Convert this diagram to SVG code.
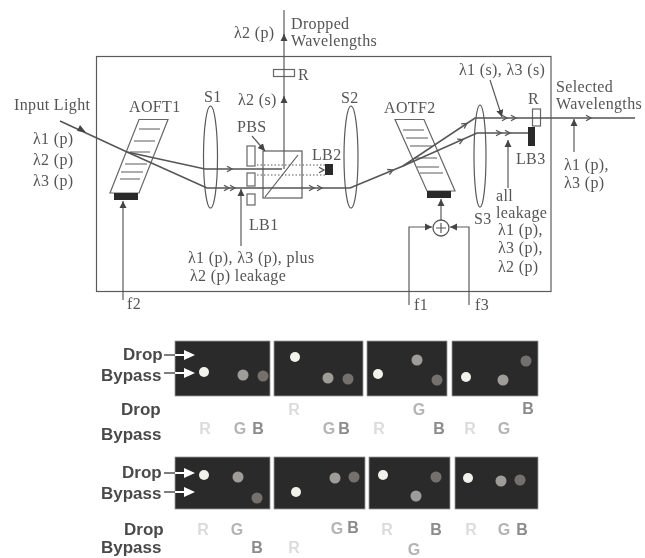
<svg xmlns="http://www.w3.org/2000/svg" width="645" height="558" viewBox="0 0 645 558">
<style>
text{font-family:"Liberation Serif","DejaVu Serif",serif;font-size:16px;letter-spacing:.35px;fill:#555}
.b{font-family:"Liberation Sans",Arial,sans-serif;font-weight:bold;font-size:17px;letter-spacing:0;fill:#4a4a4a}
.l{font-family:"Liberation Sans",Arial,sans-serif;font-weight:bold;font-size:16px;letter-spacing:0;text-anchor:middle}
.ln{fill:none;stroke:#5a5a5a;stroke-width:1.2}
.th{fill:none;stroke:#555;stroke-width:1.6}
.sh{fill:#fff;stroke:#666;stroke-width:1.2}
.k{fill:#2a2a2a}
.p{fill:#2c2c2c;stroke:#999;stroke-width:.8}
.wt{fill:#f2f2ea}.gr{fill:#a09c98}.bl{fill:#746f6c}
.wa{fill:#fff}
.r{fill:#dcdcdc}.g{fill:#b4b4b4}.bb{fill:#8c8c8c}
</style>
<defs>
<marker id="a" markerWidth="7" markerHeight="7" refX="6" refY="3" orient="auto"><path d="M0 0L6 3L0 6Z" fill="#444"/></marker>
<path id="c" d="M-4 -2.8L1 0L-4 2.8" fill="none" stroke="#555" stroke-width="1.3"/>
<filter id="s" x="-2%" y="-2%" width="104%" height="104%"><feGaussianBlur stdDeviation="0.4"/></filter>
</defs>
<rect width="645" height="558" fill="#fff"/>
<g filter="url(#s)">
<g id="frame"><rect class="ln" x="96.5" y="56.5" width="454.5" height="235"/></g>
<g id="AOTF1">
<path class="sh" d="M139 119.5H168L139 193H110Z"/>
<path class="ln" d="M139 129H160M134 141H155M130 152H150M125 164H147M121 172H143M120 179H140"/>
<rect class="k" x="114" y="193" width="24" height="7"/>
</g>
<g id="S1"><ellipse class="ln" cx="210.500" cy="157" rx="7" ry="51"/></g>
<g id="S2"><ellipse class="ln" cx="351" cy="157" rx="7" ry="51"/></g>
<g id="S3"><ellipse class="ln" cx="480" cy="156" rx="6" ry="51"/></g>
<g id="LB1"><rect class="sh" x="247" y="146" width="8" height="20"/><rect class="sh" x="247" y="173" width="8" height="13"/><rect class="sh" x="247" y="194" width="8" height="11"/></g>
<g id="PBS"><rect class="ln" x="263" y="151" width="39" height="47"/><path class="ln" d="M265 197L298 155"/></g>
<g id="LB2"><rect class="k" x="325" y="164" width="8" height="11"/></g>
<g id="R1"><rect class="sh" x="273.500" y="69.500" width="21" height="7"/></g>
<g id="AOTF2">
<path class="sh" d="M395 119.500H424L455 191H427Z"/>
<path class="ln" d="M403 130H424M406 138H428M410 146H432M414 158H437M417 167H439M420 173H443"/>
<rect class="k" x="427" y="191" width="24" height="7"/>
</g>
<g id="R2"><rect class="sh" x="532.500" y="109" width="8" height="17"/></g>
<g id="LB3"><rect class="k" x="528" y="127" width="7" height="19"/></g>
<g id="connectors">
<path class="th" d="M60 121L127 152L205 169H282"/>
<path class="th" d="M127 152L207 188H350L403 166L475 118H635"/>
<path class="th" d="M403 166L477 133H528"/>
<path class="ln" d="M284 169V10"/>
<path class="ln" d="M284 41V34" marker-end="url(#a)"/>
<path class="ln" d="M284 102V96" marker-end="url(#a)"/>
<path class="ln" d="M257 165H325M257 175H325" stroke-dasharray="1.5 2"/>
<path class="ln" d="M241 246V189" marker-end="url(#a)"/>
<path class="ln" d="M123 300V201" marker-end="url(#a)"/>
<path class="ln" d="M441 220V199" marker-end="url(#a)"/>
<path class="ln" d="M409 305V227H432" marker-end="url(#a)"/>
<path class="ln" d="M469 305V227H450" marker-end="url(#a)"/>
<path class="ln" d="M490 80L502 117" marker-end="url(#a)"/>
<path class="ln" d="M508 188V140" marker-end="url(#a)"/>
<path class="ln" d="M574 152V119" marker-end="url(#a)"/>
<path class="ln" d="M252 136L265 151" marker-end="url(#a)"/>
<path d="M86 132.500L77 131L80 125Z" fill="#444"/>
<use href="#c" x="231" y="169"/><use href="#c" x="228" y="188"/><use href="#c" x="234" y="188"/>
<use href="#c" x="313" y="188"/><use href="#c" x="321" y="188"/><use href="#c" x="323" y="170"/>
<use href="#c" x="392" y="170.500" transform="rotate(-23 392 170.500)"/>
<use href="#c" x="466" y="124" transform="rotate(-33 466 124)"/>
<use href="#c" x="462" y="140" transform="rotate(-24 462 140)"/>
<use href="#c" x="506" y="118"/><use href="#c" x="515" y="118"/>
<use href="#c" x="500" y="133"/><use href="#c" x="509" y="133"/>
<use href="#c" x="590" y="118"/>
</g>
<g id="adder"><circle cx="441" cy="228" r="8" fill="#fff" stroke="#555" stroke-width="1.300"/><path class="ln" d="M436 228H446M441 223V233"/></g>
<g id="labels">
<text x="234" y="38">λ2 (p)</text>
<text x="291" y="29">Dropped</text><text x="291" y="46">Wavelengths</text>
<text x="298" y="80">R</text>
<text x="238" y="105">λ2 (s)</text>
<text x="204" y="102">S1</text>
<text x="14" y="110">Input Light</text>
<text x="129" y="112">AOFT1</text>
<text x="33" y="144">λ1 (p)</text><text x="33" y="165">λ2 (p)</text><text x="33" y="186">λ3 (p)</text>
<text x="237" y="132">PBS</text>
<text x="312" y="160">LB2</text>
<text x="249" y="230">LB1</text>
<text x="188" y="263">λ1 (p), λ3 (p), plus</text>
<text x="190" y="281">λ2 (p) leakage</text>
<text x="127" y="309">f2</text>
<text x="341" y="103">S2</text>
<text x="384" y="113">AOTF2</text>
<text x="459" y="75">λ1 (s), λ3 (s)</text>
<text x="556" y="92">Selected</text><text x="556" y="109">Wavelengths</text>
<text x="528" y="104">R</text>
<text x="516" y="164">LB3</text>
<text x="564" y="170">λ1 (p),</text><text x="564" y="188">λ3 (p)</text>
<text x="496" y="201">all</text><text x="496" y="218">leakage</text>
<text x="498" y="235">λ1 (p),</text><text x="498" y="253">λ3 (p),</text><text x="498" y="272">λ2 (p)</text>
<text x="474" y="224">S3</text>
<text x="414" y="310">f1</text><text x="475" y="310">f3</text>
</g>
<g id="panels">
<rect class="p" x="175" y="341" width="95" height="55"/><rect class="p" x="274" y="341" width="89" height="55"/><rect class="p" x="367" y="341" width="80" height="55"/><rect class="p" x="452" y="341" width="86" height="55"/>
<rect class="p" x="175" y="457" width="95" height="52"/><rect class="p" x="274" y="457" width="91" height="52"/><rect class="p" x="369" y="457" width="81" height="52"/><rect class="p" x="455" y="457" width="83" height="52"/>
<g class="wt"><circle cx="204" cy="372" r="5"/><circle cx="295" cy="357" r="5"/><circle cx="378" cy="374" r="5"/><circle cx="466" cy="377" r="5"/><circle cx="204" cy="475" r="5"/><circle cx="296" cy="492" r="5"/><circle cx="383" cy="475" r="5"/><circle cx="468" cy="478" r="5"/></g>
<g class="gr"><circle cx="243" cy="375" r="5.500"/><circle cx="328" cy="378" r="5.500"/><circle cx="417" cy="360" r="5.500"/><circle cx="503" cy="380" r="5.500"/><circle cx="238" cy="477" r="5.500"/><circle cx="335" cy="478" r="5.500"/><circle cx="416" cy="496" r="5.500"/><circle cx="501" cy="481" r="5.500"/></g>
<g class="bl"><circle cx="263" cy="376" r="5.500"/><circle cx="348" cy="379" r="5.500"/><circle cx="437" cy="380" r="5.500"/><circle cx="526" cy="361" r="5.500"/><circle cx="257" cy="498" r="5.500"/><circle cx="354" cy="477" r="5.500"/><circle cx="436" cy="477" r="5.500"/><circle cx="520" cy="480" r="5.500"/></g>
</g>
<g id="panel-labels">
<text class="b" x="123" y="360">Drop</text><text class="b" x="101" y="381">Bypass</text>
<text class="b" x="121" y="415">Drop</text><text class="b" x="101" y="440">Bypass</text>
<text class="b" x="122" y="478">Drop</text><text class="b" x="101" y="499">Bypass</text>
<text class="b" x="124" y="535">Drop</text><text class="b" x="101" y="553">Bypass</text>
<path d="M164 355H175M164 373H175M164 473H175M164 492H175" stroke="#555" stroke-width="1.300"/>
<path class="wa" d="M175 354H184V350L195 355L184 360V356H175ZM175 372H184V368L195 373L184 378V374H175ZM175 472H184V468L195 473L184 478V474H175ZM175 491H184V487L195 492L184 497V493H175Z"/>
<g>
<text class="l r" x="205" y="434">R</text><text class="l g" x="240" y="434">G</text><text class="l bb" x="258" y="434">B</text>
<text class="l r" x="294" y="415">R</text><text class="l g" x="329" y="434">G</text><text class="l bb" x="344" y="434">B</text>
<text class="l g" x="419" y="415">G</text><text class="l r" x="379" y="434">R</text><text class="l bb" x="439" y="434">B</text>
<text class="l bb" x="528" y="414">B</text><text class="l r" x="470" y="434">R</text><text class="l g" x="504" y="434">G</text>
<text class="l r" x="203" y="535">R</text><text class="l g" x="237" y="535">G</text><text class="l bb" x="257" y="553">B</text>
<text class="l r" x="294" y="553">R</text><text class="l g" x="337" y="534">G</text><text class="l bb" x="353" y="533">B</text>
<text class="l r" x="387" y="535">R</text><text class="l bb" x="436" y="535">B</text><text class="l g" x="414" y="555">G</text>
<text class="l r" x="471" y="535">R</text><text class="l g" x="504" y="535">G</text><text class="l bb" x="522" y="535">B</text>
</g>
</g>
</g>
</svg>
